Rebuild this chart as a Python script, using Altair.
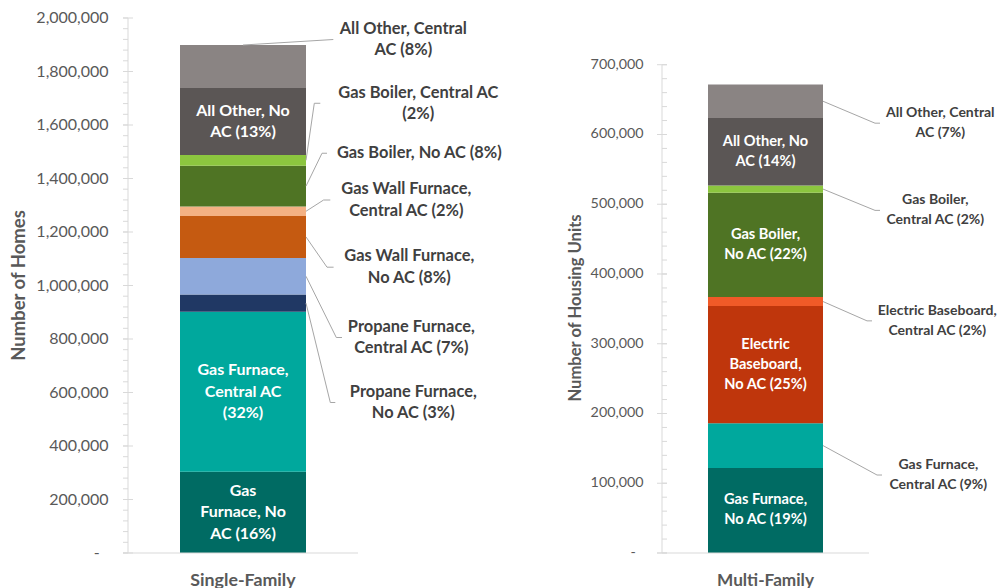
import altair as alt
import pandas as pd

FONT = "Lato"

# ---------------- data ----------------
sf_category = "Single-Family"
sf_segments = ["Gas Furnace, No AC", "Gas Furnace, Central AC", "Propane Furnace, No AC",
               "Propane Furnace, Central AC", "Gas Wall Furnace, No AC", "Gas Wall Furnace, Central AC",
               "Gas Boiler, No AC", "Gas Boiler, Central AC", "All Other, No AC", "All Other, Central AC"]
sf_values = [304000, 598000, 64000, 137000, 157000, 35000, 153000, 40000, 250000, 161000]
sf_labels = [["Gas", "Furnace, No", "AC (16%)"], ["Gas Furnace,", "Central AC", "(32%)"],
             ["Propane Furnace,", "No AC (3%)"], ["Propane Furnace,", "Central AC (7%)"],
             ["Gas Wall Furnace,", "No AC (8%)"], ["Gas Wall Furnace,", "Central AC (2%)"],
             ["Gas Boiler, No AC (8%)"], ["Gas Boiler, Central AC", "(2%)"],
             ["All Other, No", "AC (13%)"], ["All Other, Central", "AC (8%)"]]
sf_inside = [True, True, False, False, False, False, False, False, True, False]

mf_category = "Multi-Family"
mf_segments = ["Gas Furnace, No AC", "Gas Furnace, Central AC", "Electric Baseboard, No AC",
               "Electric Baseboard, Central AC", "Gas Boiler, No AC", "Gas Boiler, Central AC",
               "All Other, No AC", "All Other, Central AC"]
mf_values = [122000, 64000, 168000, 13000, 149500, 10500, 96500, 48300]
mf_labels = [["Gas Furnace,", "No AC (19%)"], ["Gas Furnace,", "Central AC (9%)"],
             ["Electric", "Baseboard,", "No AC (25%)"], ["Electric Baseboard,", "Central AC (2%)"],
             ["Gas Boiler,", "No AC (22%)"], ["Gas Boiler,", "Central AC (2%)"],
             ["All Other, No", "AC (14%)"], ["All Other, Central", "AC (7%)"]]
mf_inside = [True, False, True, False, True, False, True, False]

color_domain = ["Gas Furnace, No AC", "Gas Furnace, Central AC", "Propane Furnace, No AC",
                "Propane Furnace, Central AC", "Gas Wall Furnace, No AC", "Gas Wall Furnace, Central AC",
                "Electric Baseboard, No AC", "Electric Baseboard, Central AC",
                "Gas Boiler, No AC", "Gas Boiler, Central AC", "All Other, No AC", "All Other, Central AC"]
color_range = ["#006B63", "#00A89D", "#203864", "#8EA9DB", "#C55A11", "#F4B183",
               "#BF360C", "#F05A28", "#4F7424", "#8CC63F", "#5B5655", "#8A8483"]

sf_ticks = list(range(0, 2000001, 200000))
sf_minor = list(range(0, 2000001, 40000))
mf_ticks = list(range(0, 700001, 100000))
mf_minor = list(range(0, 700001, 20000))

sf_title = "Number of Homes"
mf_title = "Number of Housing Units"

# ---------------- annotation layout (outside labels) ----------------
# per segment: (label centre y in data units, text x px, elbow x px, stub end x px, attach mode)
sf_layout = [None, None,
             (562600, 285.3, 202.3, 207.3, "mid"),
             (805600, 283.3, 208.3, 214.0, "mid"),
             (1068400, 281.3, 199.0, 205.6, "mid"),
             (1319600, 278.3, 195.6, 202.3, "mid"),
             (1494400, 291.3, 194.0, 199.0, "mid"),
             (1681200, 290.3, 186.3, 192.3, "mid"),
             None,
             (1919600, 275.3, 205.3, 205.3, "top")]
mf_layout = [None,
             (111800, 276.3, 215.0, 220.0, "mid"),
             None,
             (332800, 275.3, 205.0, 210.0, "mid"),
             None,
             (491200, 273.3, 213.0, 218.0, "mid"),
             None,
             (616200, 278.3, 213.0, 218.0, "mid")]


def panel(cat, segs, vals, labels, inside, layout, ymax, ticks, minor, W, H, bar,
          tick_fs, tick_pad, zero_pad, lab_fs, lab_lh, in_fs, in_lh, cat_fs, title, title_fs,
          title_x, title_y, minor_x, marker=False):
    px = ymax / H  # data units per pixel, for stacking text lines
    rows, in_rows, out_rows, out_lines = [], [], [], []
    acc = 0
    for s, v, lab, ins, lay in zip(segs, vals, labels, inside, layout):
        start, end = acc, acc + v
        acc = end
        mid = (start + end) / 2
        rows.append(dict(cat=cat, seg=s, start=start, end=end))
        n = len(lab)
        if ins:
            for i, line in enumerate(lab):
                in_rows.append(dict(cat=cat, text=line, y=mid - (i - (n - 1) / 2) * in_lh * px))
        if lay is not None:
            ly, tx, ex, sx, mode = lay
            if mode == "top":
                ax, ay = W / 2, end
            else:
                ax, ay = W / 2 + bar / 2, mid
            out_rows.append(dict(label_y=ly, ex=ex, sx=sx, ax=ax, ay=ay))
            for i, line in enumerate(lab):
                out_lines.append(dict(text=line, tx=tx, y=ly - (i - (n - 1) / 2) * lab_lh * px))
    df = pd.DataFrame(rows)
    idf = pd.DataFrame(in_rows)
    odf = pd.DataFrame(out_rows)
    ldf = pd.DataFrame(out_lines)
    ysc = alt.Scale(domain=[0, ymax], nice=False, zero=True)

    bars = alt.Chart(df).mark_bar(size=bar).encode(
        x=alt.X("cat:N", title=None,
                axis=alt.Axis(labelAngle=0, domain=False, ticks=False, labelPadding=18,
                              labelFont=FONT, labelFontSize=cat_fs, labelFontWeight="bold",
                              labelColor="#595959")),
        y=alt.Y("start:Q", scale=ysc, axis=None),
        y2="end:Q",
        color=alt.Color("seg:N", scale=alt.Scale(domain=color_domain, range=color_range), legend=None),
    )
    inner = alt.Chart(idf).mark_text(
        font=FONT, fontSize=in_fs, fontWeight="bold", color="white",
        align="center", baseline="middle").encode(
        x=alt.X("cat:N", axis=None),
        y=alt.Y("y:Q", scale=ysc, axis=None),
        text="text:N",
    )
    outer = alt.Chart(ldf).mark_text(
        font=FONT, fontSize=lab_fs, fontWeight="bold", color="#404040",
        align="center", baseline="middle").encode(
        x=alt.X("tx:Q", scale=None, axis=None),
        y=alt.Y("y:Q", scale=ysc, axis=None),
        text="text:N",
    )
    lead = alt.Chart(odf).mark_rule(color="#A6A6A6", strokeWidth=1).encode(
        x=alt.X("ax:Q", scale=None, axis=None), x2="ex:Q",
        y=alt.Y("ay:Q", scale=ysc, axis=None), y2="label_y:Q",
    )
    stub = alt.Chart(odf).mark_rule(color="#A6A6A6", strokeWidth=1).encode(
        x=alt.X("ex:Q", scale=None, axis=None), x2="sx:Q",
        y=alt.Y("label_y:Q", scale=ysc, axis=None),
    )
    axis_line = alt.Chart(pd.DataFrame({"lo": [ticks[0]], "hi": [ticks[-1]]})).mark_rule(
        color="#D9D9D9").encode(x=alt.value(0), y=alt.Y("lo:Q", scale=ysc, axis=None), y2="hi:Q")
    major = alt.Chart(pd.DataFrame({"v": ticks})).mark_rule(color="#D9D9D9").encode(
        x=alt.value(-5), x2=alt.value(5), y=alt.Y("v:Q", scale=ysc, axis=None))
    minor_t = alt.Chart(pd.DataFrame({"v": minor})).mark_rule(color="#D9D9D9").encode(
        x=alt.value(minor_x[0]), x2=alt.value(minor_x[1]), y=alt.Y("v:Q", scale=ysc, axis=None))
    base_line = alt.Chart(pd.DataFrame({"v": [0]})).mark_rule(color="#D9D9D9").encode(
        x=alt.value(-5), x2=alt.value(W), y=alt.Y("v:Q", scale=ysc, axis=None))
    tick_src = alt.Chart(pd.DataFrame({"v": ticks}))
    tick_labels = tick_src.transform_filter("datum.v > 0").transform_calculate(
        lab="format(datum.v, ',')"
    ).mark_text(align="right", baseline="middle", font=FONT, fontSize=tick_fs,
                color="#595959").encode(
        x=alt.value(-tick_pad), y=alt.Y("v:Q", scale=ysc, axis=None), text="lab:N")
    zero_label = tick_src.transform_filter("datum.v == 0").transform_calculate(
        lab="'-'"
    ).mark_text(align="right", baseline="middle", font=FONT, fontSize=tick_fs,
                color="#595959").encode(
        x=alt.value(-zero_pad), y=alt.Y("v:Q", scale=ysc, axis=None), text="lab:N")
    title_mark = alt.Chart(pd.DataFrame({"t": [title]})).mark_text(
        angle=270, align="center", baseline="middle", font=FONT, fontSize=title_fs,
        fontWeight="bold", color="#595959").encode(
        x=alt.value(title_x), y=alt.value(title_y), text="t:N")
    layers = [bars, minor_t, major, axis_line, base_line, tick_labels, zero_label, title_mark,
              inner, lead, stub, outer]
    if marker:
        mk = alt.Chart(pd.DataFrame({"v": [0]})).mark_rule(opacity=0, strokeOpacity=0).encode(
            x=alt.value(-119.7), x2=alt.value(-119.7), y=alt.value(-10), y2=alt.value(-9))
        layers.append(mk)
    return alt.layer(*layers).resolve_scale(x="independent").properties(width=W, height=H)


left = panel(sf_category, sf_segments, sf_values, sf_labels, sf_inside, sf_layout, 2000000,
             sf_ticks, sf_minor, 230, 535, 126, 16, 19.4, 28.2, 16.4, 21.5, 16, 21.7, 17.8,
             sf_title, 18.5, -109.2, 267.5, (-5, 0), marker=True)
right = panel(mf_category, mf_segments, mf_values, mf_labels, mf_inside, mf_layout, 767000,
              mf_ticks, mf_minor, 207, 535, 115, 14.3, 18.4, 26.2, 14.0, 20, 14.6, 20, 17.2,
              mf_title, 16.6, -86.2, 290, (0, 5))

chart = alt.hconcat(left, right, spacing=304, bounds="flush").properties(
    padding={"left": 0, "top": 0, "right": 0, "bottom": 0}
).configure(font=FONT).configure_view(stroke=None)

chart.save("out.html", embed_options={"renderer": "svg", "actions": False})
